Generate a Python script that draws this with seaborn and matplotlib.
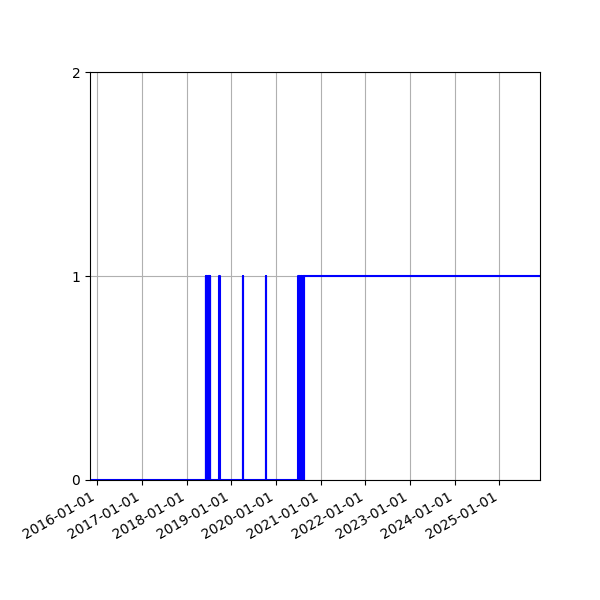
import matplotlib
matplotlib.use("Agg")
import matplotlib.pyplot as plt
import matplotlib.dates as mdates
import seaborn as sns
import pandas as pd

# Transition dates (step-post) and the value held from each date onward
change_dates = [
    "2015-11-02",
    # dense cluster mid-2018
    "2018-06-04", "2018-06-07", "2018-06-10", "2018-06-13", "2018-06-16",
    "2018-06-19", "2018-06-22", "2018-06-25", "2018-06-28", "2018-07-01",
    "2018-07-04", "2018-07-07", "2018-07-10", "2018-07-12",
    # single spikes
    "2018-09-24", "2018-09-27",
    "2019-04-05", "2019-04-08",
    "2019-10-12", "2019-10-15",
    # cluster mid-2020 then permanent
    "2020-07-03", "2020-07-17", "2020-07-20", "2020-08-04", "2020-08-07",
    "2020-08-14", "2020-08-17",
    "2025-11-30",
]
values = [
    0,
    1, 0, 1, 0, 1,
    0, 1, 0, 1, 0,
    1, 0, 1, 0,
    1, 0,
    1, 0,
    1, 0,
    1, 0, 1, 0, 1,
    0, 1,
    1,
]
y_ticks = [0, 1, 2]

dates = pd.to_datetime(change_dates)

fig = plt.figure(figsize=(6, 6), dpi=100)
ax = fig.add_subplot(111)
fig.subplots_adjust(left=0.15, right=0.9, bottom=0.2, top=0.88)

sns.lineplot(x=dates, y=values, ax=ax, drawstyle="steps-post", color="blue",
             linewidth=1.5, estimator=None, sort=False)

ax.set_xlim(dates[0], dates[-1])
ax.set_ylim(0, 2)
ax.set_yticks(y_ticks)
ax.xaxis.set_major_locator(mdates.YearLocator())
ax.xaxis.set_major_formatter(mdates.DateFormatter("%Y-%m-%d"))
ax.grid(True)
ax.set_xlabel("")
ax.set_ylabel("")
for lbl in ax.get_xticklabels():
    lbl.set_rotation(30)
    lbl.set_ha("right")

fig.savefig("out.png", dpi=100)
